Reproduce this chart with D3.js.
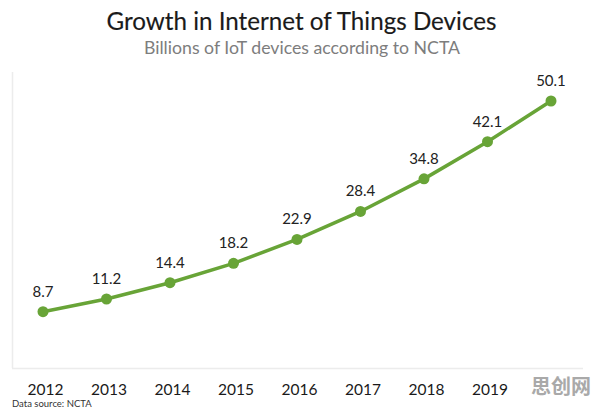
<!DOCTYPE html>
<html>
<head>
<meta charset="utf-8">
<script src="https://cdn.jsdelivr.net/npm/d3@7"></script>
<style>
  html, body { margin: 0; padding: 0; background: #fff; }
  svg { display: block; }
</style>
</head>
<body>
<svg id="chart" width="596" height="409"></svg>
<script>
const years = ["2012","2013","2014","2015","2016","2017","2018","2019","2020"];
const devices = [8.7, 11.2, 14.4, 18.2, 22.9, 28.4, 34.8, 42.1, 50.1];
const titleText = "Growth in Internet of Things Devices";
const subtitleText = "Billions of IoT devices according to NCTA";
const sourceText = "Data source: NCTA";
const watermarkText = "思创网";

const svg = d3.select("#chart");
const green = "#68a437";
const font = "Lato, 'Open Sans', sans-serif";

// frame
svg.append("line").attr("x1", 12.5).attr("x2", 12.5).attr("y1", 72).attr("y2", 368)
  .attr("stroke", "#ececec").attr("stroke-width", 1.5);
svg.append("line").attr("x1", 12).attr("x2", 583).attr("y1", 368.5).attr("y2", 368.5)
  .attr("stroke", "#ececec").attr("stroke-width", 1.5);

// title
svg.append("text").attr("x", 301.5).attr("y", 29.5).attr("text-anchor", "middle")
  .attr("font-family", font).attr("font-size", 24.2).attr("fill", "#1a1a1a")
  .attr("stroke", "#1a1a1a").attr("stroke-width", 0.15)
  .text(titleText);
svg.append("text").attr("x", 302).attr("y", 54).attr("text-anchor", "middle")
  .attr("font-family", font).attr("font-size", 17.7).attr("fill", "#7d7d7d")
  .text(subtitleText);

const x = d3.scalePoint().domain(years).range([43, 551]);
const y = d3.scaleLinear().domain([0, 50]).range([356, 101.5]);

// x axis labels (the 2020 label is hidden behind the watermark in the reference)
const xAxis = d3.axisBottom(x).tickSize(0).tickPadding(0).tickValues(years.slice(0, -1));
const gx = svg.append("g").attr("transform", "translate(2,380)").call(xAxis);
gx.select(".domain").remove();
gx.selectAll("text").attr("font-family", font).attr("font-size", 15.5)
  .attr("fill", "#1a1a1a").attr("dy", "0.95em");

// line
const line = d3.line().x((d, i) => x(years[i])).y(d => y(d)).curve(d3.curveLinear);
svg.append("path").datum(devices).attr("d", line).attr("fill", "none")
  .attr("stroke", green).attr("stroke-width", 3.5).attr("stroke-linejoin", "round");

svg.selectAll("circle.pt").data(devices).join("circle").attr("class", "pt")
  .attr("cx", (d, i) => x(years[i])).attr("cy", d => y(d)).attr("r", 5.5)
  .attr("fill", green);

svg.selectAll("text.val").data(devices).join("text").attr("class", "val")
  .attr("x", (d, i) => x(years[i])).attr("y", d => y(d) - 15)
  .attr("text-anchor", "middle").attr("font-family", font).attr("font-size", 15)
  .attr("fill", "#222").text(d => d.toFixed(1));

// source
svg.append("text").attr("x", 12).attr("y", 407).attr("font-family", font)
  .attr("font-size", 9.5).attr("fill", "#333").text(sourceText);

// watermark
svg.append("text").attr("x", 561).attr("y", 394).attr("text-anchor", "middle")
  .attr("font-family", "'Noto Sans CJK SC', sans-serif").attr("font-weight", "bold")
  .attr("font-size", 20).attr("fill", "#a9a9a9").text(watermarkText);
</script>
</body>
</html>
